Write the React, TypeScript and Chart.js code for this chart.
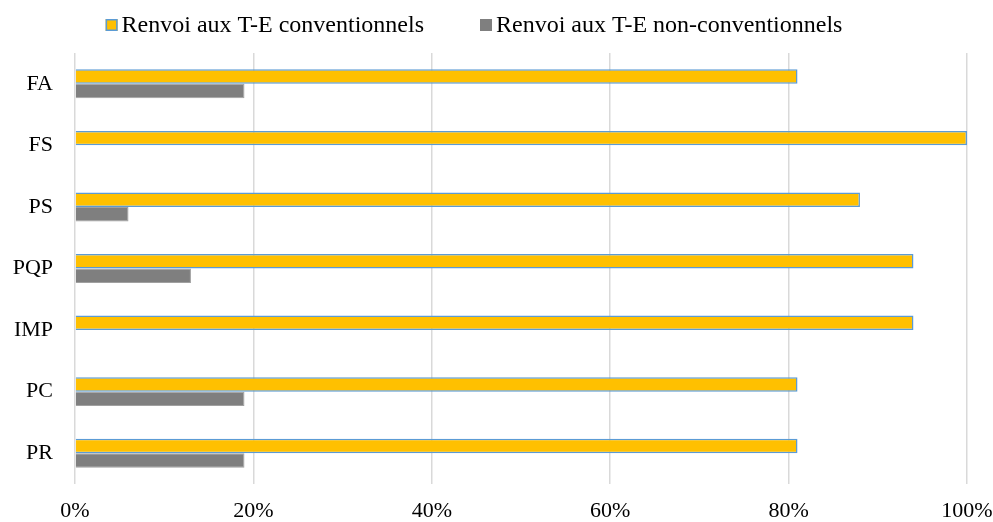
import React, { useEffect, useRef } from "react";
import { Chart, registerables } from "chart.js";

Chart.register(...registerables);

const categories = ["FA", "FS", "PS", "PQP", "IMP", "PC", "PR"];
const conventionnels = [81, 100, 88, 94, 94, 81, 81];
const nonConventionnels = [19, 0, 6, 13, 0, 19, 19];
const seriesNames = ["Renvoi aux T-E conventionnels", "Renvoi aux T-E non-conventionnels"];
const xTicks = [0, 20, 40, 60, 80, 100];

const FONT = "'Liberation Serif', 'Times New Roman', serif";

const customLegend = {
  id: "customLegend",
  afterDraw(chart: any) {
    const ctx = chart.ctx;
    const size = 24;
    ctx.save();
    ctx.font = `${size}px ${FONT}`;
    ctx.textBaseline = "middle";
    ctx.textAlign = "left";
    const box = 12;
    const boxGap = 4;
    const itemGap = 56;
    const items = chart.data.datasets.map((ds: any) => ({
      text: ds.label,
      fill: ds.backgroundColor,
      stroke: ds.legendBorder,
      w: ctx.measureText(ds.label).width,
    }));
    const total = items.reduce((s: number, it: any) => s + box + boxGap + it.w, 0) + itemGap * (items.length - 1);
    const cx = chart.width / 2 - 22.5;
    let x = cx - total / 2;
    const y = 25;
    items.forEach((it: any) => {
      ctx.fillStyle = it.fill;
      ctx.fillRect(x, y - box / 2, box, box);
      if (it.stroke) {
        ctx.strokeStyle = it.stroke;
        ctx.lineWidth = 1.5;
        ctx.strokeRect(x + 0.75, y - box / 2 + 0.75, box - 1.5, box - 1.5);
      }
      x += box + boxGap;
      ctx.fillStyle = "#000";
      ctx.fillText(it.text, x, y + 1);
      x += it.w + itemGap;
    });
    ctx.restore();
  },
};

export default function App() {
  const ref = useRef<HTMLCanvasElement>(null);
  useEffect(() => {
    document.body.style.margin = "0";
    const chart = new Chart(ref.current!, {
      type: "bar",
      data: {
        labels: categories,
        datasets: [
          {
            label: seriesNames[0],
            data: conventionnels,
            backgroundColor: "#FFC000",
            borderColor: "#5B9BD5",
            borderWidth: 1.5,
            legendBorder: "#5B9BD5",
            categoryPercentage: 0.47,
            barPercentage: 1,
          } as any,
          {
            label: seriesNames[1],
            data: nonConventionnels,
            backgroundColor: "#7F7F7F",
            borderColor: "#A0A0A0",
            borderWidth: 1,
            legendBorder: null,
            categoryPercentage: 0.47,
            barPercentage: 1,
          } as any,
        ],
      },
      options: {
        indexAxis: "y",
        animation: false,
        responsive: false,
        maintainAspectRatio: false,
        layout: { padding: { top: 53, right: 26, left: 0, bottom: 0 } },
        plugins: {
          legend: { display: false },
          tooltip: { enabled: false },
        },
        scales: {
          x: {
            min: 0,
            max: 100,
            afterBuildTicks(scale: any) {
              scale.ticks = xTicks.map((v) => ({ value: v }));
            },
            afterFit(scale: any) {
              scale.height = 38;
              scale.paddingRight = 0;
              scale.paddingLeft = 0;
            },
            grid: { color: "#D9D9D9", lineWidth: 1.5, drawTicks: false },
            border: { display: false },
            ticks: {
              padding: 14,
              color: "#000",
              font: { family: FONT, size: 22 },
              callback: (v: any) => v + "%",
            },
          },
          y: {
            afterFit(scale: any) {
              scale.width = 75;
              scale.paddingTop = 0;
              scale.paddingBottom = 0;
            },
            grid: { display: false, drawTicks: false },
            border: { display: false },
            ticks: {
              padding: 22,
              color: "#000",
              font: { family: FONT, size: 22 },
            },
          },
        },
      },
      plugins: [customLegend],
    });
    return () => chart.destroy();
  }, []);
  return (
    <div style={{ position: "relative", width: 993, height: 522, background: "#fff" }}>
      <canvas ref={ref} width={993} height={522} style={{ display: "block" }} />
    </div>
  );
}
